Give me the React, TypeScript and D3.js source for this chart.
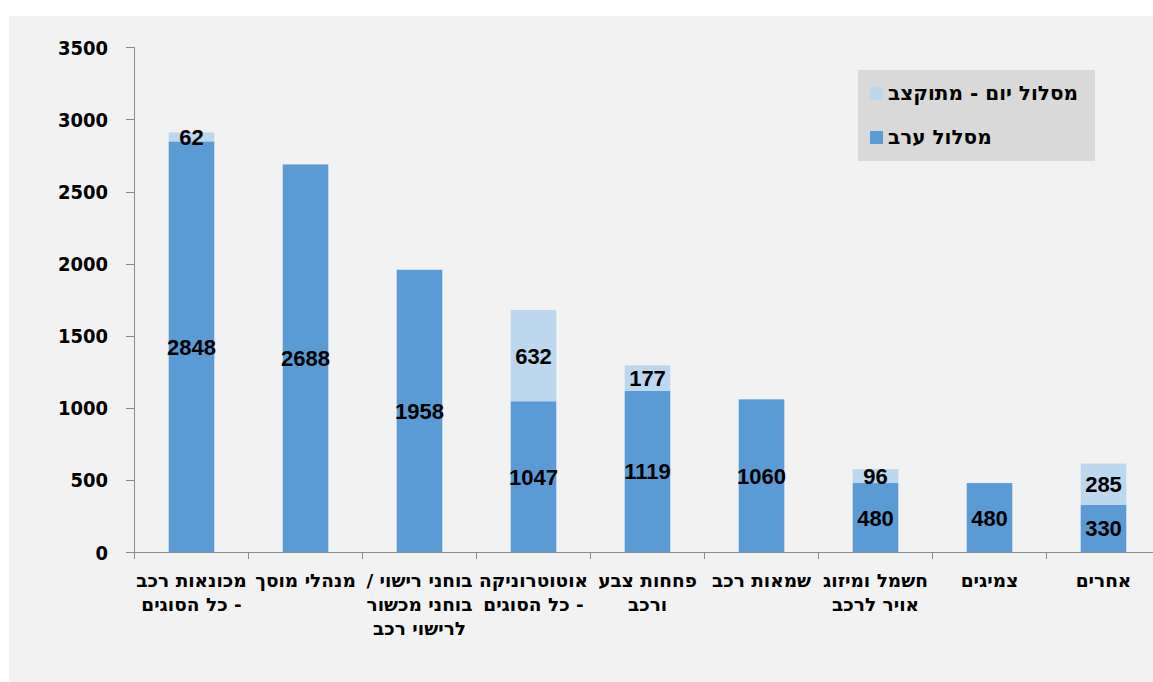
import React from "react";
import * as d3 from "d3";

const categories: string[][] = [
  ["מכונאות רכב", "כל הסוגים -"],
  ["מנהלי מוסך"],
  ["/ בוחני רישוי", "בוחני מכשור", "לרישוי רכב"],
  ["אוטוטרוניקה", "כל הסוגים -"],
  ["פחחות צבע", "ורכב"],
  ["שמאות רכב"],
  ["חשמל ומיזוג", "אויר לרכב"],
  ["צמיגים"],
  ["אחרים"],
];
const eveningValues = [2848, 2688, 1958, 1047, 1119, 1060, 480, 480, 330];
const dayValues = [62, 0, 0, 632, 177, 0, 96, 0, 285];
const yTicks = [0, 500, 1000, 1500, 2000, 2500, 3000, 3500];
const seriesNames = ["מסלול יום - מתוקצב", "מסלול ערב"];

const W = 1153;
const H = 682;
const DARK = "#5b9bd5";
const LIGHT = "#bdd7ee";
const AXIS = "#8c8c8c";
const FONT = "'DejaVu Sans Condensed', 'DejaVu Sans', sans-serif";
const HEBFONT = "'DejaVu Sans', sans-serif";
const NUMFONT = "'Liberation Sans', Arial, sans-serif";

export default function App() {
  const idx = categories.map((_, i) => i);
  const x = d3.scaleBand<number>().domain(idx).range([134.5, 1160.5]).padding(0);
  const y = d3.scaleLinear().domain([0, 3500]).range([552.3, 47.3]);
  const bw = x.bandwidth() * 0.4;

  return (
    <div style={{ position: "absolute", left: 0, top: 0 }}>
      <svg width={W} height={H} style={{ display: "block" }}>
        <rect x={9} y={16} width={W - 9} height={H - 16} fill="#f2f2f2" />
        {/* bars */}
        {idx.map((i) => {
          const cx = (x(i) as number) + x.bandwidth() / 2;
          const ev = eveningValues[i];
          const dv = dayValues[i];
          return (
            <g key={i}>
              <rect x={cx - bw / 2} y={y(ev)} width={bw} height={y(0) - y(ev)} fill={DARK} />
              {dv > 0 && (
                <rect x={cx - bw / 2} y={y(ev + dv)} width={bw} height={y(ev) - y(ev + dv)} fill={LIGHT} />
              )}
              <text x={cx} y={y(ev / 2)} dy="0.36em" textAnchor="middle" fontFamily={NUMFONT} fontWeight="bold" fontSize={22} fill="#000">
                {ev}
              </text>
              {dv > 0 && (
                <text x={cx} y={y(ev + dv / 2)} dy="0.36em" textAnchor="middle" fontFamily={NUMFONT} fontWeight="bold" fontSize={22} fill="#000">
                  {dv}
                </text>
              )}
            </g>
          );
        })}
        {/* y axis */}
        <line x1={134.5} x2={134.5} y1={y(3500)} y2={y(0)} stroke={AXIS} />
        {yTicks.map((t) => (
          <g key={t}>
            <line x1={126} x2={134.5} y1={Math.round(y(t)) + 0.5} y2={Math.round(y(t)) + 0.5} stroke={AXIS} />
            <text x={108} y={y(t)} dy="0.36em" textAnchor="end" fontFamily={FONT} fontWeight="bold" fontSize={20} fill="#000">
              {t}
            </text>
          </g>
        ))}
        {/* x axis */}
        <line x1={126} x2={1160.5} y1={552.5} y2={552.5} stroke={AXIS} />
        {idx.map((i) => (
          <line key={i} x1={(x(i) as number) + x.bandwidth()} x2={(x(i) as number) + x.bandwidth()} y1={552.5} y2={559} stroke={AXIS} />
        ))}
        <line x1={134.5} x2={134.5} y1={552.5} y2={559} stroke={AXIS} />
        {idx.map((i) => {
          const cx = (x(i) as number) + x.bandwidth() / 2;
          return (
            <text key={i} textAnchor="middle" fontFamily={HEBFONT} fontWeight="bold" fontSize={18.5} fill="#000">
              {categories[i].map((ln, k) => (
                <tspan key={k} x={cx} y={587 + k * 24}>
                  {ln}
                </tspan>
              ))}
            </text>
          );
        })}
        {/* legend */}
        <rect x={858} y={70} width={237} height={91} fill="#d9d9d9" />
        <rect x={870} y={87} width={13} height={13} fill={LIGHT} />
        <text x={888} y={100} fontFamily={HEBFONT} fontWeight="bold" fontSize={20} fill="#000">
          {seriesNames[0]}
        </text>
        <rect x={870} y={131} width={13} height={13} fill={DARK} />
        <text x={888} y={144} fontFamily={HEBFONT} fontWeight="bold" fontSize={20} fill="#000">
          {seriesNames[1]}
        </text>
      </svg>
    </div>
  );
}
